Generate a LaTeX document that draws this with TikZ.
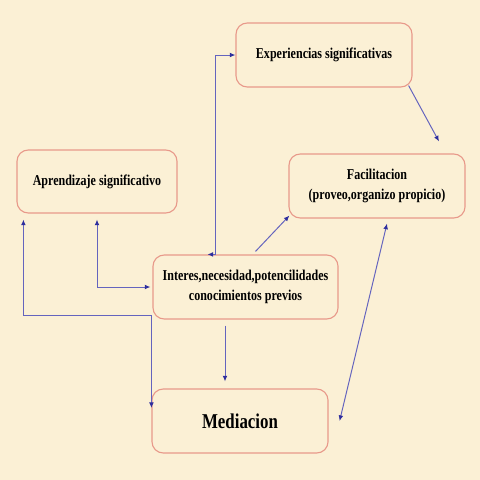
\documentclass[tikz,border=0pt]{standalone}
\usepackage{fontspec}
\setmainfont[FakeStretch=0.8]{Liberation Serif}
\usetikzlibrary{arrows.meta,calc}
\definecolor{paper}{HTML}{FBF0D5}
\definecolor{boxline}{HTML}{E8998A}
\definecolor{arrline}{HTML}{6464BE}
\definecolor{arrtip}{HTML}{2E2E9E}
\tikzset{
  box/.style={draw=boxline, line width=0.8pt, rounded corners=8pt, align=center,
    minimum height=1.6cm, inner sep=2pt, font=\fontsize{10.7}{14.2}\selectfont\bfseries},
  arr/.style={draw=arrline, line width=0.7pt, -{Latex[length=4pt,width=3.4pt,color=arrtip]}},
  darr/.style={arr, {Latex[length=4pt,width=3.4pt,color=arrtip]}-{Latex[length=4pt,width=3.4pt,color=arrtip]}}
}
\begin{document}
\begin{tikzpicture}[x=0.025cm,y=-0.025cm]
    \fill[paper] (0,0) rectangle (480,480);
    \useasboundingbox (0,0) rectangle (480,480);
    \node[box, minimum width=4.4cm] (exp) at (324,55) {Experiencias significativas};
    \node[box, minimum width=4cm, minimum height=1.575cm] (apr) at (97,181.5) {Aprendizaje significativo};
    \node[box, minimum width=4.4cm] (fac) at (377,186) {Facilitacion\\(proveo,organizo propicio)};
    \node[box, minimum width=4.625cm] (int) at (245.5,287) {Interes,necesidad,potencilidades\\conocimientos previos};
    \node[box, minimum width=4.4cm, font=\fontsize{15}{18}\selectfont\bfseries] (med) at (240,421) {Mediacion};
    \draw[darr] ($(int.north)+(-38,0)$) -- ($(int.north)+(-30.5,0)$) |- (exp.west);
    \draw[arr] ($(exp.south east)+(-4,-2)$) -- ($(fac.north)+(62,-12)$);
    \draw[arr] ($(int.north)+(10,-3)$) -- ($(fac.south west)+(1,-3)$);
    \draw[darr] ($(fac.south)+(10,5)$) -- ($(med.east)+(11,0)$);
    \draw[darr] ($(apr.south west)+(7,6)$) -- ++(0,96) -| ($(med.west)+(0,-13)$);
    \draw[darr] ($(apr.south)+(0,6)$) |- ($(int.west)+(-2,0)$);
    \draw[arr] ($(int.south)+(-20.5,6)$) -- ($(med.north)+(-15,-7)$);
\end{tikzpicture}
\end{document}
